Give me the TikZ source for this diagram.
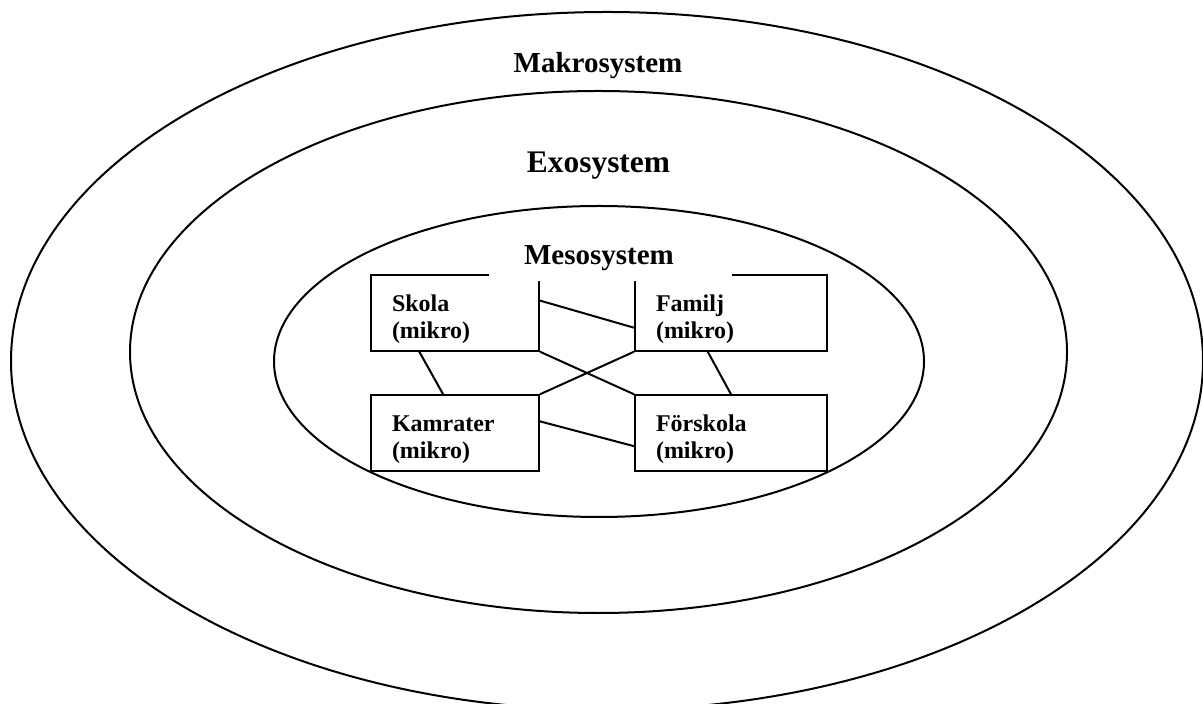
\documentclass[tikz,border=0pt]{standalone}
\usepackage{fontspec}
\setmainfont{Liberation Serif}
\usetikzlibrary{calc}

\tikzset{
  ring/.style={line width=1pt},
  mikro/.style={draw, fill=white, line width=1pt, minimum height=35pt, inner xsep=10.5pt,
    align=left, font=\fontsize{12}{13.5}\selectfont\bfseries},
  syslabel/.style={anchor=base, font=\fontsize{#1}{#1}\selectfont\bfseries},
}
\newcommand{\mtop}{\rule{0pt}{15pt}}

\begin{document}
\begin{tikzpicture}[x=0.5pt,y=-0.5pt]
  \useasboundingbox (0,0) rectangle (1203,704);
  \clip (0,0) rectangle (1203,704);
  % the three rings
  \draw[ring] (607,361) ellipse [x radius=596, y radius=349];
  \draw[ring] (598.5,352) ellipse [x radius=468.5, y radius=261];
  \draw[ring] (599,361.5) ellipse [x radius=325, y radius=155.5];
  \node[syslabel=14.5] (makro) at (598,73) {Makrosystem};
  \node[syslabel=15.7] (exo) at (598.5,173) {Exosystem};
  % micro systems
  \node[mikro, text width=63pt] (skola) at (455,313) {\mtop Skola\\(mikro)};
  \node[mikro, text width=75pt] (familj) at (731,313) {\mtop Familj\\(mikro)};
  \node[mikro, text width=63pt, minimum height=36pt] (kamrater) at (455,433) {\mtop Kamrater\\(mikro)};
  \node[mikro, text width=75pt, minimum height=36pt] (forskola) at (731,433) {\mtop Förskola\\(mikro)};
  % white band under the label
  \fill[white] (489,271) rectangle (732,281);
  \node[syslabel=14.5] (meso) at (599,265) {Mesosystem};
  % links
  \draw[ring] ($(skola.north east)!0.34!(skola.south east)$) -- ($(familj.north west)!0.69!(familj.south west)$);
  \draw[ring] ($(skola.south west)!0.29!(skola.south east)$) -- ($(kamrater.north west)!0.43!(kamrater.north east)$);
  \draw[ring] (skola.south east) -- (forskola.north west);
  \draw[ring] (familj.south west) -- (kamrater.north east);
  \draw[ring] ($(familj.south west)!0.38!(familj.south east)$) -- (forskola.north);
  \draw[ring] ($(kamrater.north east)!0.35!(kamrater.south east)$) -- ($(forskola.north west)!0.67!(forskola.south west)$);
\end{tikzpicture}
\end{document}
